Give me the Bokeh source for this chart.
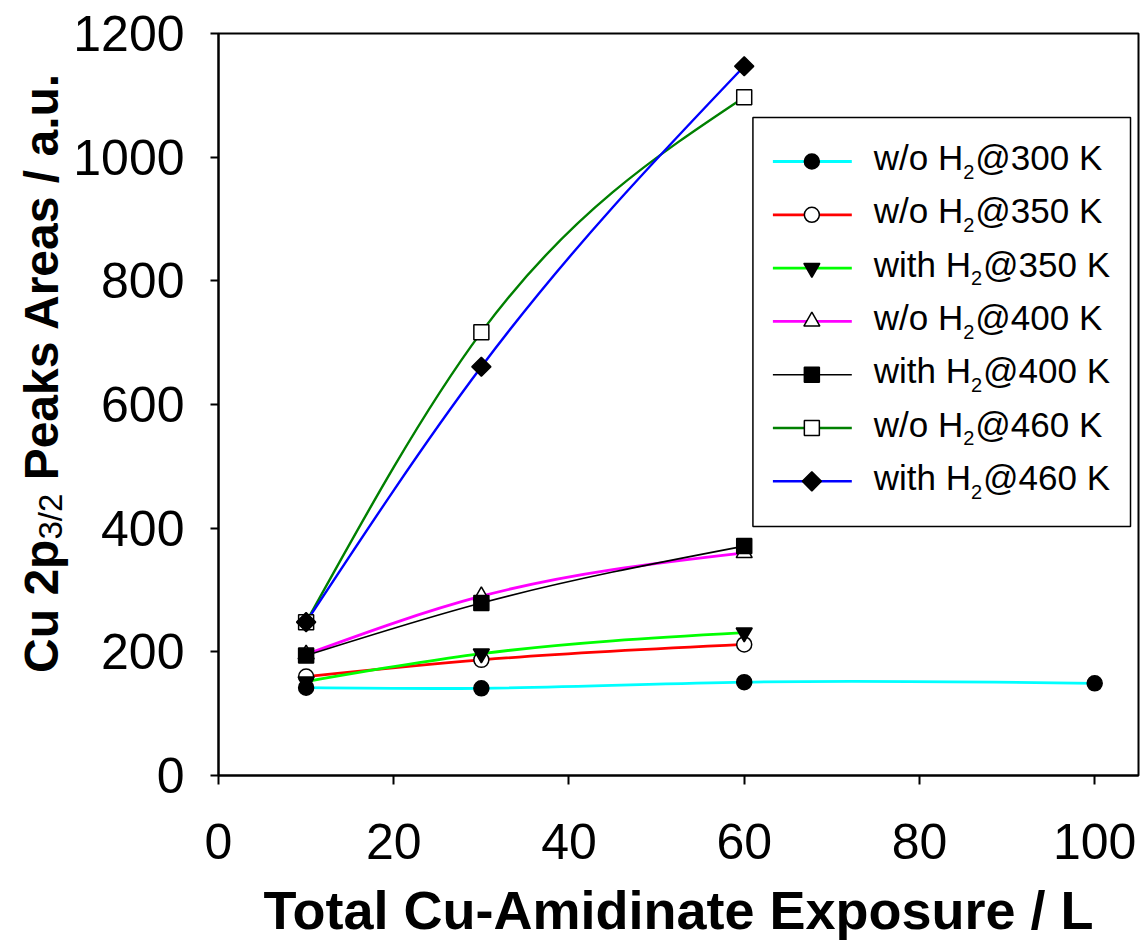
import numpy as np
from math import pi
from bokeh.plotting import figure
from bokeh.layouts import row
from bokeh.models import Range1d, FixedTicker
from bokeh.core.properties import value
from bokeh.embed import file_html
from bokeh.resources import INLINE

# ---------------- data ----------------
x_short = [10, 30, 60]
x_long = [10, 30, 60, 100]

y_wo_300 = [142, 141, 151, 149]
y_wo_350 = [160, 187, 212]
y_with_350 = [152, 197, 231]
y_wo_400 = [196, 290, 360]
y_with_400 = [194, 279, 371]
y_wo_460 = [248, 717, 1097]
y_with_460 = [248, 661, 1147]

# legend labels: (text before subscript, subscript, text after subscript)
series_labels = [
    ("w/o H", "2", "@300 K"),
    ("w/o H", "2", "@350 K"),
    ("with H", "2", "@350 K"),
    ("w/o H", "2", "@400 K"),
    ("with H", "2", "@400 K"),
    ("w/o H", "2", "@460 K"),
    ("with H", "2", "@460 K"),
]

x_ticks = [0, 20, 40, 60, 80, 100]
y_ticks = [0, 200, 400, 600, 800, 1000, 1200]

x_label = "Total Cu-Amidinate Exposure / L"
y_label_parts = ["Cu 2p", "3/2", "Peaks Areas / a.u."]

FONT = "Liberation Sans"

# Arial / Liberation Sans advance widths (em), used to place subscripts
REG = {"w": .722, "/": .278, "o": .556, " ": .278, "H": .722, "i": .222,
       "t": .278, "h": .556, "3": .556, "2": .556}
BOLD = {"C": .722, "u": .611, " ": .278, "2": .556, "p": .611}
MID_TO_BASE = 0.3465   # baseline lies this many em below the 'middle' anchor

def text_w(s, table, size):
    return sum(table[c] for c in s) * size

# ---------------- helpers ----------------
def spline_bezier(xs, ys):
    """Natural cubic spline through the points, expressed as bezier segments."""
    x = np.asarray(xs, float)
    y = np.asarray(ys, float)
    n = len(x)
    h = np.diff(x)
    A = np.zeros((n, n))
    b = np.zeros(n)
    A[0, 0] = 1
    A[-1, -1] = 1
    for i in range(1, n - 1):
        A[i, i - 1] = h[i - 1]
        A[i, i] = 2 * (h[i - 1] + h[i])
        A[i, i + 1] = h[i]
        b[i] = 6 * ((y[i + 1] - y[i]) / h[i] - (y[i] - y[i - 1]) / h[i - 1])
    M = np.linalg.solve(A, b)
    m = np.zeros(n)
    for i in range(n - 1):
        m[i] = (y[i + 1] - y[i]) / h[i] - h[i] * (2 * M[i] + M[i + 1]) / 6
    m[-1] = (y[-1] - y[-2]) / h[-1] + h[-1] * (M[-2] + 2 * M[-1]) / 6
    return dict(
        x0=x[:-1], y0=y[:-1], x1=x[1:], y1=y[1:],
        cx0=x[:-1] + h / 3, cy0=y[:-1] + m[:-1] * h / 3,
        cx1=x[1:] - h / 3, cy1=y[1:] - m[1:] * h / 3,
    )

# ---------------- layout constants (page pixels) ----------------
W, H = 1143, 943
LW = 70                      # width of the strip holding the y-axis title
F_LEFT, F_RIGHT, F_TOP, F_BOTTOM = 217, 1138, 33, 775
X_MAX = 105
Y_MAX = 1200

px_per_x = (F_RIGHT - F_LEFT) / X_MAX
px_per_y = (F_BOTTOM - F_TOP) / Y_MAX
def sx_to_x(sx):
    return (sx - F_LEFT) / px_per_x
def sy_to_y(sy):
    return (F_BOTTOM - sy) / px_per_y

# ---------------- y-title strip (frame aligned with the main frame) ----------------
lab = figure(width=LW, height=H, output_backend="svg", toolbar_location=None,
             x_range=Range1d(0, LW), y_range=Range1d(0, F_BOTTOM - F_TOP),
             x_axis_type=None, y_axis_type=None,
             min_border=0, min_border_left=0, min_border_right=0,
             min_border_top=F_TOP, min_border_bottom=H - F_BOTTOM)
lab.outline_line_color = None
lab.xgrid.visible = False
lab.ygrid.visible = False
lab.background_fill_color = "white"
lab.border_fill_color = "white"

def lab_y(sy):
    return F_BOTTOM - sy

FY, FS = 48, 33
BASE_MAIN, BASE_SUB = 58, 61          # baselines (page x) of rotated title
w1 = text_w(y_label_parts[0], BOLD, FY)
w2 = 1.39 * FS
gap = 0.278 * FY
total_len = w1 + w2 + gap + (8.783 - 0.278) * FY
center_sy = 372
start_sy = center_sy + total_len / 2
pieces = [
    (y_label_parts[0], start_sy, FY, "bold", BASE_MAIN),
    (y_label_parts[1], start_sy - w1, FS, "normal", BASE_SUB),
    (y_label_parts[2], start_sy - w1 - w2 - gap, FY, "bold", BASE_MAIN),
]
for txt, sy, fs, st, base in pieces:
    lab.text(x=[base - MID_TO_BASE * fs], y=[lab_y(sy)], text=[txt], angle=pi / 2,
             text_font=value(FONT), text_font_size=value(f"{fs}px"),
             text_font_style=value(st), text_color="black",
             text_align="left", text_baseline="middle")

# ---------------- main figure ----------------
p = figure(width=W - LW, height=H, output_backend="svg", toolbar_location=None,
           x_range=Range1d(0, X_MAX), y_range=Range1d(0, Y_MAX),
           min_border_left=F_LEFT - LW, min_border_right=W - F_RIGHT,
           min_border_top=F_TOP, min_border_bottom=H - F_BOTTOM)
p.xgrid.visible = False
p.ygrid.visible = False
p.background_fill_color = "white"
p.border_fill_color = "white"
p.outline_line_color = "black"
p.outline_line_width = 2

series = [
    (x_long, y_wo_300, "#00FFFF", 2.8, "circle", "black", 15, 0),
    (x_short, y_wo_350, "#FF0000", 2.8, "circle", "white", 15, 0),
    (x_short, y_with_350, "#00FF00", 2.8, "inverted_triangle", "black", 16, 0),
    (x_short, y_wo_400, "#FF00FF", 2.8, "triangle", "white", 16, 0),
    (x_short, y_with_400, "#000000", 1.6, "square", "black", 15, 0),
    (x_short, y_wo_460, "#008000", 2.4, "square", "white", 15, 0),
    (x_short, y_with_460, "#0000FF", 2.4, "square", "black", 13.5, pi / 4),
]

for (xs, ys, col, lw, mk, fill, size, ang) in series:
    p.bezier(line_color=col, line_width=lw, **spline_bezier(xs, ys))

for (xs, ys, col, lw, mk, fill, size, ang) in series:
    p.scatter(xs, ys, marker=mk, size=size, angle=ang, fill_color=fill,
              line_color="black", line_width=1.5)

# axes
for ax in (p.xaxis[0], p.yaxis[0]):
    ax.axis_line_width = 2
    ax.major_tick_line_width = 2
    ax.major_tick_in = 0
    ax.minor_tick_line_color = None
    ax.major_label_text_font = FONT
    ax.major_label_text_font_size = "50px"
    ax.major_label_text_color = "black"
    ax.axis_line_color = "black"
    ax.major_tick_line_color = "black"

p.xaxis.ticker = FixedTicker(ticks=x_ticks)
p.yaxis.ticker = FixedTicker(ticks=y_ticks)
p.xaxis.major_tick_out = 9
p.yaxis.major_tick_out = 8
p.xaxis.major_label_standoff = 39
p.yaxis.major_label_standoff = 26

p.xaxis.axis_label = x_label
p.xaxis.axis_label_text_font = FONT
p.xaxis.axis_label_text_font_style = "bold"
p.xaxis.axis_label_text_font_size = "54px"
p.xaxis.axis_label_text_color = "black"
p.xaxis.axis_label_standoff = 18

# ---------------- legend (drawn by hand for subscripts / diamond) ----------------
LG_L, LG_R, LG_T, LG_B = 752, 1130, 117, 526
ROW0, ROW_H = 161, 53.3
LINE_X0, LINE_X1, MARK_X, TEXT_X = 772, 851, 811, 873
FL, FSUB = 35, 20
BASE_OFF, SUB_OFF = 8.3, 17.3     # baselines below the row's line

p.quad(left=[sx_to_x(LG_L)], right=[sx_to_x(LG_R)],
       top=[sy_to_y(LG_T)], bottom=[sy_to_y(LG_B)],
       fill_color="white", line_color="black", line_width=1.5)

for i, ((xs, ys, col, lw, mk, fill, size, ang), (t1, t2, t3)) in enumerate(
        zip(series, series_labels)):
    cy = ROW0 + ROW_H * i
    p.segment(x0=[sx_to_x(LINE_X0)], y0=[sy_to_y(cy)],
              x1=[sx_to_x(LINE_X1)], y1=[sy_to_y(cy)],
              line_color=col, line_width=lw)
    p.scatter([sx_to_x(MARK_X)], [sy_to_y(cy)], marker=mk, size=size,
              angle=ang, fill_color=fill, line_color="black", line_width=1.5)
    w_a = text_w(t1, REG, FL)
    w_b = text_w(t2, REG, FSUB)
    main_sy = cy + BASE_OFF - MID_TO_BASE * FL
    sub_sy = cy + SUB_OFF - MID_TO_BASE * FSUB
    p.text(x=[sx_to_x(TEXT_X)], y=[sy_to_y(main_sy)], text=[t1],
           text_font=value(FONT), text_font_size=value(f"{FL}px"),
           text_color="black", text_align="left", text_baseline="middle")
    p.text(x=[sx_to_x(TEXT_X + w_a)], y=[sy_to_y(sub_sy)], text=[t2],
           text_font=value(FONT), text_font_size=value(f"{FSUB}px"),
           text_color="black", text_align="left", text_baseline="middle")
    p.text(x=[sx_to_x(TEXT_X + w_a + w_b + 1)], y=[sy_to_y(main_sy)], text=[t3],
           text_font=value(FONT), text_font_size=value(f"{FL}px"),
           text_color="black", text_align="left", text_baseline="middle")

layout = row(lab, p)
open("out.html", "w").write(file_html(layout, INLINE))
